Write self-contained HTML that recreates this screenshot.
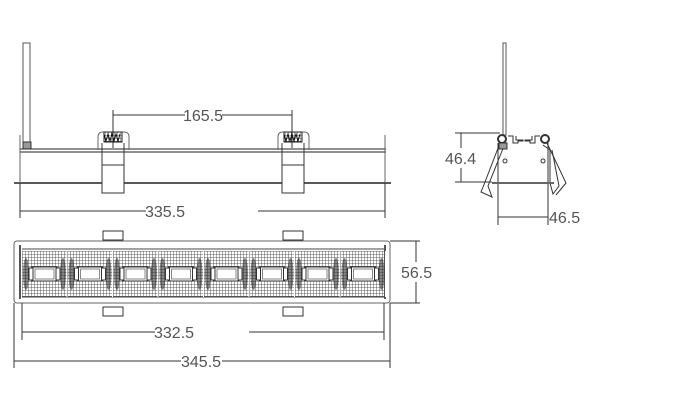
<!DOCTYPE html>
<html><head><style>body{margin:0;background:#fff}svg{display:block}text{font-family:"Liberation Sans",sans-serif;font-size:16px;fill:#555}</style></head>
<body>
<svg width="694" height="400" viewBox="0 0 694 400" xmlns="http://www.w3.org/2000/svg">
<defs>
<pattern id="mesh" width="3" height="3" patternUnits="userSpaceOnUse">
<path d="M0 0H3M0 0V3" stroke="#333" stroke-width="0.8" fill="none"/>
</pattern>
<g id="clip" fill="none" stroke="#333" stroke-width="1">
<path d="M98 150V137q0-5 5-5h21q5 0 5 5v13" stroke="#666"/>
<rect x="104" y="132" width="18" height="10" fill="url(#mesh)" stroke="#222"/>
<path d="M104 134l2 7 2-7 2 7 2-7 2 7 2-7 2 7 2-7" stroke="#111"/>
<path d="M102 143V193M124 143V193M102 165H124M102 193H124"/>
<rect x="102" y="165" width="22" height="28" fill="#fff"/>
</g>
<g id="cell">
<rect x="0" y="0" width="45" height="46" fill="url(#mesh)"/>
<path d="M45 0V46" stroke="#fff" stroke-width="1"/>
<ellipse cx="4" cy="23" rx="3" ry="16" fill="#222" opacity="0.55"/>
<ellipse cx="41" cy="23" rx="3" ry="16" fill="#222" opacity="0.55"/>
<rect x="10" y="16" width="25" height="14" fill="#fff" stroke="#333"/>
<rect x="13" y="18" width="19" height="10" fill="#fff" stroke="#555" stroke-width="0.7"/>
<rect x="7" y="17" width="4" height="12" fill="#fff" stroke="#333"/>
<rect x="34" y="17" width="4" height="12" fill="#fff" stroke="#333"/>
</g>
</defs>

<g fill="none" stroke="#333" stroke-width="1">
<rect x="23" y="43" width="7" height="104" stroke="#555"/>
<rect x="23" y="142" width="8" height="7" fill="#999"/>
<path d="M20 149H386M20 152H386" stroke="#222"/>
<path d="M14 183H391" stroke="#222" stroke-width="1.5"/>
<path d="M20 135V187M385 135V187" stroke="#666"/>
<path d="M20 183V218M385 183V218M20 211H146M258 211H385"/>
<path d="M113 110V148M292 110V148M113 115H185M222 115H292"/>
</g>
<use href="#clip"/>
<use href="#clip" x="180"/>
<text x="183" y="121">165.5</text>
<text x="145" y="217">335.5</text>

<g fill="none" stroke="#333" stroke-width="1">
<rect x="103" y="231" width="20" height="9"/>
<rect x="283" y="231" width="20" height="9"/>
<rect x="103" y="307" width="20" height="9"/>
<rect x="283" y="307" width="20" height="9"/>
<rect x="14" y="241" width="376" height="62" rx="3" stroke="#666"/>
<path d="M20 245V299M385 245V299" stroke="#555" stroke-width="2"/>
<path d="M22 249H384M22 297H384" stroke="#444"/>
</g>
<g>
<use href="#cell" x="22" y="251"/><use href="#cell" x="67.5" y="251"/>
<use href="#cell" x="113" y="251"/><use href="#cell" x="158.5" y="251"/>
<use href="#cell" x="204" y="251"/><use href="#cell" x="249.5" y="251"/>
<use href="#cell" x="295" y="251"/><use href="#cell" x="340.5" y="251"/>
</g>
<g fill="none" stroke="#333" stroke-width="1">
<path d="M390 241H420M390 303H420M416 241V303"/>
<path d="M22 303V340M384 303V340M22 332H155M249 332H384"/>
<path d="M14 303V368M390 303V368M14 361H181M222 361H390"/>
</g>
<rect x="400" y="262" width="32" height="20" fill="#fff"/>
<text x="401" y="278">56.5</text>
<text x="154" y="338">332.5</text>
<text x="181" y="367">345.5</text>

<g fill="none" stroke="#333" stroke-width="1">
<rect x="503" y="43" width="3" height="92" stroke="#555"/>
<path d="M455 133H500M455 182H492M461 133V182"/>
<path d="M498 143V225M548 143V225M498 217H548"/>
<circle cx="502" cy="139" r="4" stroke-width="2"/>
<circle cx="545" cy="139" r="4" stroke-width="2"/>
<path d="M508 136H513V143H518V141H523V140H516V136" />
<path d="M540 136H535V143H530V141H525V140H532V136"/>
<path d="M500 143L485 182L481 192L492 197L488 186L504 146"/>
<path d="M543 145L550 150V183L553 194L559 186L552 150"/>
<path d="M547 143L566 183L556 195"/>
<path d="M492 183H554" stroke-width="2" stroke="#666"/>
<circle cx="505" cy="161" r="2"/>
<circle cx="543" cy="161" r="2"/>
<rect x="499" y="143" width="8" height="6" fill="#999"/>
</g>
<rect x="444" y="148" width="33" height="20" fill="#fff"/>
<text x="445" y="164">46.4</text>
<text x="549" y="223">46.5</text>
</svg>
</body></html>
